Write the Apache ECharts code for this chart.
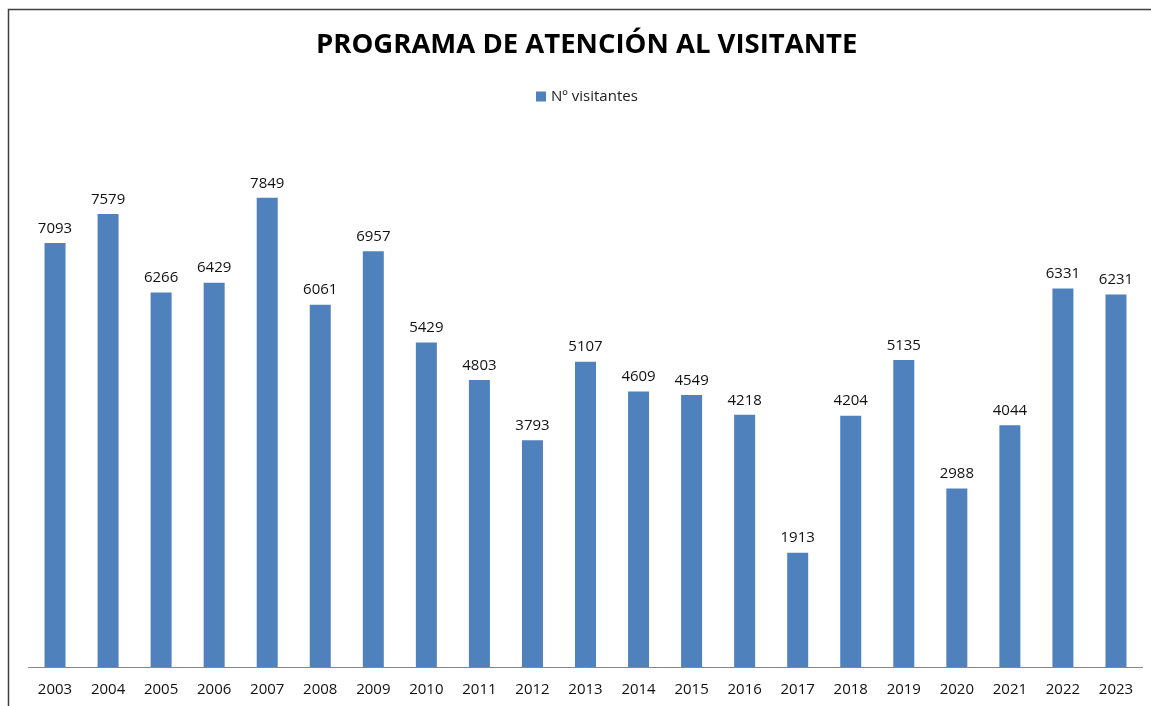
<!DOCTYPE html>
<html>
<head>
<meta charset="utf-8">
<script src="https://cdn.jsdelivr.net/npm/echarts@6/dist/echarts.min.js"></script>
<style>
html, body { margin: 0; padding: 0; background: #fff; }
#chart { width: 1151px; height: 706px; }
</style>
</head>
<body>
<div id="chart"></div>
<script>
var years = ['2003', '2004', '2005', '2006', '2007', '2008', '2009', '2010', '2011', '2012', '2013',
    '2014', '2015', '2016', '2017', '2018', '2019', '2020', '2021', '2022', '2023'];
var visitors = [7093, 7579, 6266, 6429, 7849, 6061, 6957, 5429, 4803, 3793, 5107,
    4609, 4549, 4218, 1913, 4204, 5135, 2988, 4044, 6331, 6231];
var seriesName = 'Nº visitantes';
var titleText = 'PROGRAMA DE ATENCIÓN AL VISITANTE';

var chart = echarts.init(document.getElementById('chart'));
chart.setOption({
    animation: false,
    textStyle: { fontFamily: 'Open Sans' },
    graphic: [{
        type: 'rect',
        shape: { x: 8.5, y: 9.5, width: 1200, height: 800 },
        style: { fill: 'none', stroke: '#404040', lineWidth: 1.5 },
        silent: true
    }],
    title: {
        text: titleText,
        left: 311,
        top: 26,
        textStyle: { fontFamily: 'Open Sans', fontWeight: 'bold', fontSize: 27.5, color: '#000' }
    },
    legend: {
        data: [seriesName],
        top: 84,
        left: 531,
        itemWidth: 10,
        itemHeight: 10,
        icon: 'rect',
        textStyle: { fontFamily: 'Open Sans', fontSize: 15, color: '#222' }
    },
    grid: { left: 28.5, right: 8.5, top: 129, bottom: 39 },
    xAxis: {
        type: 'category',
        data: years,
        axisLine: { lineStyle: { color: '#868686', width: 1 } },
        axisTick: { show: false },
        axisLabel: { fontFamily: 'Open Sans', fontSize: 15, color: '#111', margin: 15 }
    },
    yAxis: {
        type: 'value',
        min: 0,
        max: 9000,
        show: false,
        splitLine: { show: false }
    },
    series: [{
        name: seriesName,
        type: 'bar',
        data: visitors,
        barWidth: 21,
        itemStyle: { color: '#4F81BD' },
        label: {
            show: true,
            position: 'top',
            distance: 7,
            fontFamily: 'Open Sans',
            fontSize: 15,
            color: '#111'
        }
    }]
});
</script>
</body>
</html>
